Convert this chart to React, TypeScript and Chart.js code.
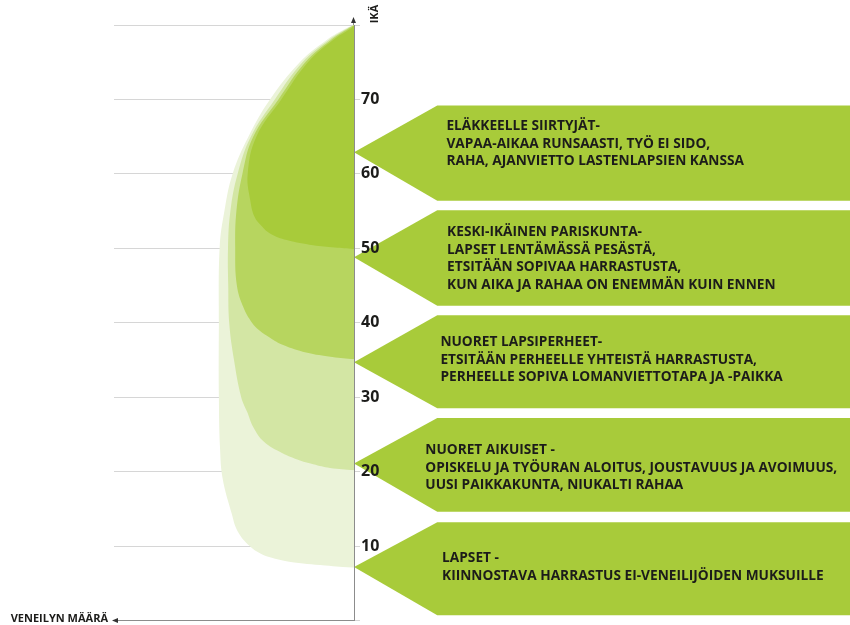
import React, { useEffect, useRef } from "react";
import { Chart, registerables } from "chart.js";

Chart.register(...registerables);

// ---- Data ----
const ageMin = 0;
const ageMax = 80;
const ageStep = 10;
const amountMin = 0;
const amountMax = 100;

// Layer 1 (lightest): children and upward
const layer1Ages = [7.1, 7.4, 7.9, 8.5, 9, 10, 12, 14.4, 19, 23, 30, 40, 50, 55, 60, 65, 70, 75, 78, 79.6, 80];
const layer1Amount = [0, 12, 27, 35, 39, 43.5, 48.5, 51, 54.7, 55.8, 56.3, 56.3, 56, 54, 50.6, 44, 35, 22.6, 11.4, 3, 0];

// Layer 2: young adults and upward
const layer2Ages = [20.2, 20.5, 21, 21.5, 22.5, 24, 26, 28, 30, 35, 40, 45, 50, 55, 60, 65, 70, 75, 78, 79.6, 80];
const layer2Amount = [0, 10, 17, 22.5, 30, 37.5, 42, 44.5, 47, 50, 52, 52.4, 52.5, 51.5, 48.5, 43, 33, 21.5, 10.5, 2.5, 0];

// Layer 3: young families and upward
const layer3Ages = [35.1, 35.4, 36, 37, 38, 39, 40, 42, 45, 50, 55, 60, 65, 70, 75, 78, 79.6, 80];
const layer3Amount = [0, 9, 20, 29.5, 35, 39.5, 42.5, 46, 48.8, 49.5, 49, 46.5, 42, 31.5, 20.3, 9.6, 2, 0];

// Layer 4 (darkest): middle-aged couples and upward
const layer4Ages = [49.9, 50.1, 50.4, 51.1, 52, 53, 54.2, 56.4, 60, 65, 70, 75, 78, 79.5, 79.9];
const layer4Amount = [0, 8, 17, 28, 35, 38.5, 41.4, 43.2, 44.3, 40.7, 30.3, 19.2, 8.7, 1.5, 0];

const layerColors = ["#a8cb3a", "#b7d55f", "#d3e6a4", "#ebf3d9"];

// Life-stage arrows (ages)
const arrowTopAge = [69.2, 55.1, 41.0, 27.2, 13.2];
const arrowTipAge = [62.9, 48.8, 34.7, 21.1, 7.2];
const arrowBottomAge = [56.4, 42.3, 28.5, 14.6, 0.7];
const arrowTextAge = [64.0, 48.6, 35.0, 20.5, 7.2];
const arrowTextAmount = [-38.5, -38.8, -36, -29.7, -36.7];
const arrowCornerAmount = -34.7;
const arrowEndAmount = -215;
const arrowLines = [
  ["ELÄKKEELLE SIIRTYJÄT-", "VAPAA-AIKAA RUNSAASTI, TYÖ EI SIDO,", "RAHA, AJANVIETTO LASTENLAPSIEN KANSSA"],
  ["KESKI-IKÄINEN PARISKUNTA-", "LAPSET LENTÄMÄSSÄ PESÄSTÄ,", "ETSITÄÄN SOPIVAA HARRASTUSTA,", "KUN AIKA JA RAHAA ON ENEMMÄN KUIN ENNEN"],
  ["NUORET LAPSIPERHEET-", "ETSITÄÄN PERHEELLE YHTEISTÄ HARRASTUSTA,", "PERHEELLE SOPIVA LOMANVIETTOTAPA JA -PAIKKA"],
  ["NUORET AIKUISET -", "OPISKELU JA TYÖURAN ALOITUS, JOUSTAVUUS JA AVOIMUUS,", "UUSI PAIKKAKUNTA, NIUKALTI RAHAA"],
  ["LAPSET -", "KIINNOSTAVA HARRASTUS EI-VENEILIJÖIDEN MUKSUILLE"],
];
const arrowColor = "#a8cb3a";

const yAxisTitle = "IKÄ";
const xAxisTitle = "VENEILYN MÄÄRÄ";

function toPoints(ages: number[], amounts: number[]) {
  return ages.map((a, i) => ({ x: amounts[i], y: a }));
}

const arrowsPlugin = {
  id: "lifeStageArrows",
  beforeDraw(chart: any) {
    const ctx = chart.ctx;
    const xs = chart.scales.x;
    const ys = chart.scales.y;
    ctx.save();
    for (let i = 0; i < arrowTopAge.length; i++) {
      const top = ys.getPixelForValue(arrowTopAge[i]);
      const tip = ys.getPixelForValue(arrowTipAge[i]);
      const bottom = ys.getPixelForValue(arrowBottomAge[i]);
      const corner = xs.getPixelForValue(arrowCornerAmount);
      const end = xs.getPixelForValue(arrowEndAmount);
      const tipX = xs.getPixelForValue(0);
      ctx.beginPath();
      ctx.moveTo(end, top);
      ctx.lineTo(corner, top);
      ctx.lineTo(tipX, tip);
      ctx.lineTo(corner, bottom);
      ctx.lineTo(end, bottom);
      ctx.closePath();
      ctx.fillStyle = arrowColor;
      ctx.fill();

      const lines = arrowLines[i];
      const lh = 17.5;
      const cy = ys.getPixelForValue(arrowTextAge[i]);
      const tx = xs.getPixelForValue(arrowTextAmount[i]);
      ctx.fillStyle = "#1c1c1a";
      ctx.font = '700 13.7px "Open Sans"';
      ctx.textAlign = "left";
      ctx.textBaseline = "middle";
      lines.forEach((t, k) => {
        ctx.fillText(t, tx, cy + (k - (lines.length - 1) / 2) * lh);
      });
    }
    ctx.restore();
  },
  afterDraw(chart: any) {
    const ctx = chart.ctx;
    const xs = chart.scales.x;
    const ys = chart.scales.y;
    const x0 = xs.getPixelForValue(0);
    const yTop = ys.getPixelForValue(ageMax);
    const yBottom = ys.getPixelForValue(ageMin);
    const xLeft = xs.getPixelForValue(amountMax);
    ctx.save();
    // vertical axis extension + arrowhead
    ctx.strokeStyle = "#8c8c8c";
    ctx.lineWidth = 1;
    ctx.beginPath();
    ctx.moveTo(x0 - 0.5, yTop);
    ctx.lineTo(x0 - 0.5, yTop - 5);
    ctx.stroke();
    ctx.fillStyle = "#333";
    ctx.beginPath();
    ctx.moveTo(x0 - 0.5, yTop - 8);
    ctx.lineTo(x0 - 3, yTop - 2);
    ctx.lineTo(x0 + 2, yTop - 2);
    ctx.closePath();
    ctx.fill();
    // horizontal axis arrowhead
    ctx.beginPath();
    ctx.moveTo(xLeft - 2, yBottom);
    ctx.lineTo(xLeft + 4, yBottom - 2.5);
    ctx.lineTo(xLeft + 4, yBottom + 2.5);
    ctx.closePath();
    ctx.fill();
    // titles
    ctx.fillStyle = "#1c1c1a";
    ctx.font = 'bold 11px "Open Sans"';
    ctx.textAlign = "right";
    ctx.textBaseline = "middle";
    ctx.fillText(xAxisTitle, xLeft - 6, yBottom - 2);
    ctx.translate(x0 + 21, yTop - 11);
    ctx.rotate(-Math.PI / 2);
    ctx.textAlign = "center";
    ctx.fillText(yAxisTitle, 0, 0);
    ctx.restore();
  },
};

export default function App() {
  const ref = useRef<HTMLCanvasElement | null>(null);
  useEffect(() => {
    if (!ref.current) return;
    const layers = [
      { ages: layer4Ages, amount: layer4Amount, color: layerColors[0] },
      { ages: layer3Ages, amount: layer3Amount, color: layerColors[1] },
      { ages: layer2Ages, amount: layer2Amount, color: layerColors[2] },
      { ages: layer1Ages, amount: layer1Amount, color: layerColors[3] },
    ];
    const chart = new Chart(ref.current, {
      type: "line",
      data: {
        datasets: layers.map((l) => ({
          data: toPoints(l.ages, l.amount),
          backgroundColor: l.color,
          borderColor: l.color,
          borderWidth: 0,
          pointRadius: 0,
          fill: "origin",
          tension: 0.4,
        })),
      },
      options: {
        indexAxis: "y",
        animation: false,
        responsive: false,
        events: [],
        layout: { padding: { left: 114, top: 25, right: 466, bottom: 4.5 } },
        plugins: { legend: { display: false }, tooltip: { enabled: false } },
        scales: {
          x: {
            type: "linear",
            min: amountMin,
            max: amountMax,
            reverse: true,
            position: "bottom",
            ticks: { display: false },
            grid: { display: false },
            border: { display: true, color: "#8c8c8c", width: 1 },
            afterFit: (s: any) => {
              s.height = 0;
              s.paddingLeft = 0;
              s.paddingRight = 0;
            },
          },
          y: {
            type: "linear",
            min: ageMin,
            max: ageMax,
            position: "right",
            ticks: {
              stepSize: ageStep,
              padding: 1,
              color: "#1c1c1a",
              font: { family: '"Open Sans"', size: 16, weight: "bold" },
              callback: (v: any) => (v === ageMin || v === ageMax ? "" : String(v)),
            },
            grid: { color: "#d6d6d6", lineWidth: 1, tickLength: 6 },
            border: { display: true, color: "#8c8c8c", width: 1 },
            afterFit: (s: any) => {
              s.width = 30;
              s.paddingTop = 0;
              s.paddingBottom = 0;
            },
          },
        },
      },
      plugins: [arrowsPlugin],
    } as any);
    return () => chart.destroy();
  }, []);
  return (
    <div style={{ position: "fixed", left: 0, top: 0, width: 850, height: 625, background: "#fff" }}>
      <canvas ref={ref} width={850} height={625} style={{ display: "block", width: 850, height: 625 }} />
    </div>
  );
}
